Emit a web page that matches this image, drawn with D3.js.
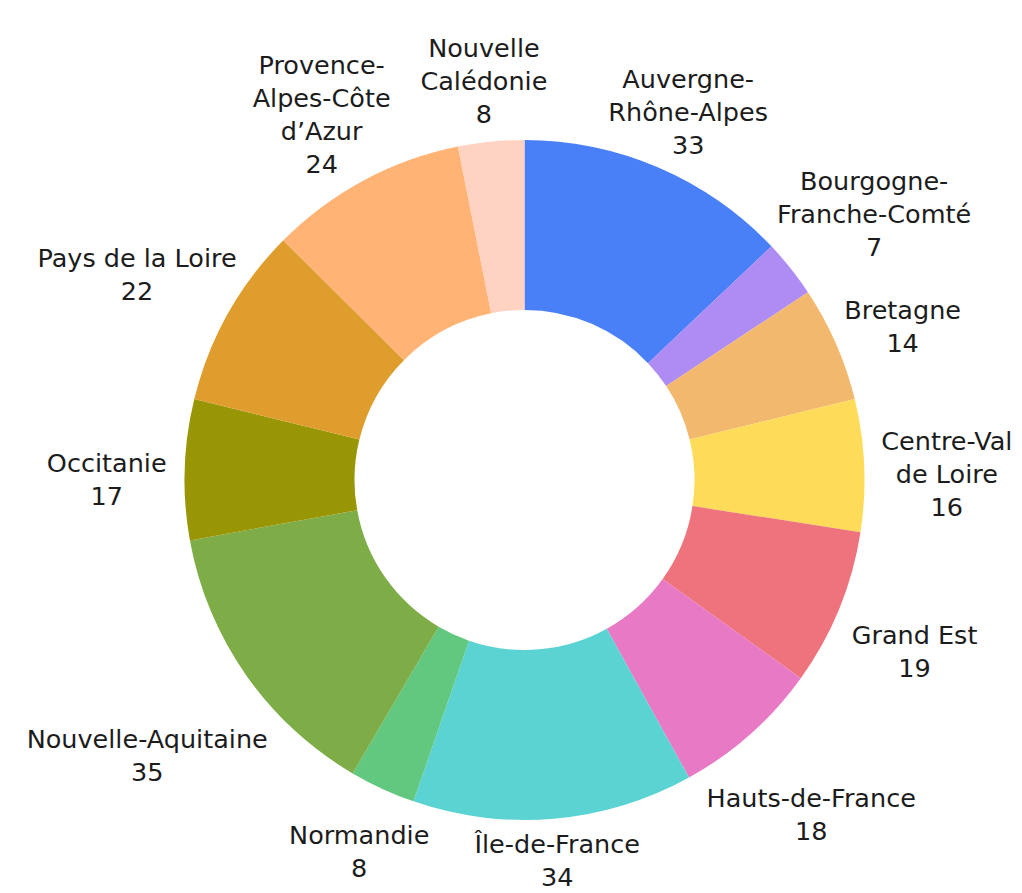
<!DOCTYPE html>
<html>
<head>
<meta charset="utf-8">
<script src="https://cdn.jsdelivr.net/npm/d3@7"></script>
<style>
  html, body { margin: 0; padding: 0; background: #fff; }
  svg { display: block; }
  .lbl { font-family: "DejaVu Sans", sans-serif; font-size: 25.5px; fill: #1c1c1c; }
</style>
</head>
<body>
<svg id="chart"></svg>
<script>
// Regions, clockwise from 12 o'clock
const regions = [
  "Auvergne-Rhône-Alpes", "Bourgogne-Franche-Comté", "Bretagne", "Centre-Val de Loire",
  "Grand Est", "Hauts-de-France", "Île-de-France", "Normandie", "Nouvelle-Aquitaine",
  "Occitanie", "Pays de la Loire", "Provence-Alpes-Côte d'Azur", "Nouvelle Calédonie"
];
const counts = [33, 7, 14, 16, 19, 18, 34, 8, 35, 17, 22, 24, 8];
// how each name wraps in the picture
const labelLines = [
  ["Auvergne-", "Rhône-Alpes"], ["Bourgogne-", "Franche-Comté"], ["Bretagne"],
  ["Centre-Val", "de Loire"], ["Grand Est"], ["Hauts-de-France"], ["Île-de-France"],
  ["Normandie"], ["Nouvelle-Aquitaine"], ["Occitanie"], ["Pays de la Loire"],
  ["Provence-", "Alpes-Côte", "d\u2019Azur"], ["Nouvelle", "Calédonie"]
];
const colors = [
  "#4a80f7", "#af8cf4", "#f2b86d", "#ffdb5a", "#ef737c", "#e879c4", "#5bd3d2",
  "#62c77f", "#7eac47", "#999605", "#df9d2e", "#ffb476", "#ffd2c2"
];

const W = 1022, H = 893;
const CX = 524.5, CY = 480;
const R_OUT = 340, R_IN = 170;
const LABEL_GAP = 347;   // label box stays this far from the label origin
const LABEL_DY = 12;     // label ring sits a little lower than the donut
const CLEAR = 18;        // every text line keeps this much air from the ring
const FS = 25.5, LH = 33;

const svg = d3.select("#chart").attr("width", W).attr("height", H);
const g = svg.append("g").attr("transform", `translate(${CX},${CY})`);

const data = regions.map((r, i) => ({ name: r, value: counts[i], lines: labelLines[i], color: colors[i] }));

const pie = d3.pie().value(d => d.value).sort(null);
const arc = d3.arc().innerRadius(R_IN).outerRadius(R_OUT);
const arcs = pie(data);

g.selectAll("path.slice").data(arcs).join("path")
  .attr("class", "slice")
  .attr("d", arc)
  .attr("fill", d => d.data.color);

// ---- labels ----
const labels = g.selectAll("g.lbl-g").data(arcs).join("g").attr("class", "lbl-g");

labels.each(function (d) {
  const el = d3.select(this);
  const txt = el.append("text").attr("class", "lbl").attr("text-anchor", "middle");
  const rows = d.data.lines.concat([String(d.data.value)]);
  const spans = rows.map((s, i) =>
    txt.append("tspan").attr("x", 0).attr("y", i * LH).text(s));
  const bb = txt.node().getBBox();
  const bcx = bb.x + bb.width / 2, bcy = bb.y + bb.height / 2;
  const hw = bb.width / 2 - 2, hh = bb.height / 2 - 6;
  // glyph box of each line, relative to the block centre
  const lineBoxes = spans.map((sp, i) => {
    const w = sp.node().getComputedTextLength();
    return { x0: -w / 2 - bcx, x1: w / 2 - bcx, y0: i * LH - 0.73 * FS - bcy, y1: i * LH - bcy };
  });

  const a = (d.startAngle + d.endAngle) / 2;
  const vx = Math.sin(a), vy = -Math.cos(a);
  const boxDist = (X, Y, x0, x1, y0, y1) => {
    const dx = Math.max(x0 - X, 0, X - x1), dy = Math.max(y0 - Y, 0, Y - y1);
    return Math.hypot(dx, dy);
  };
  // push the block outwards until it clears the label ring and the donut
  const ok = t => {
    const X = vx * t, Y = vy * t;
    if (boxDist(0, 0, X - hw, X + hw, Y - hh, Y + hh) < LABEL_GAP) return false;
    const Yd = Y + LABEL_DY;
    return lineBoxes.every(b =>
      boxDist(0, 0, X + b.x0, X + b.x1, Yd + b.y0, Yd + b.y1) >= R_OUT + CLEAR);
  };
  let lo = 0, hi = 800;
  for (let k = 0; k < 50; k++) {
    const m = (lo + hi) / 2;
    if (ok(m)) hi = m; else lo = m;
  }
  const t = hi;
  let px = vx * t, py = vy * t + LABEL_DY;
  // keep the text inside the picture
  py = Math.min(py, H - CY - bb.height / 2 - 1);
  px = Math.min(Math.max(px, -CX + hw + 2), W - CX - hw - 2);
  el.attr("transform", `translate(${px - bcx},${py - bcy})`);
});
</script>
</body>
</html>
